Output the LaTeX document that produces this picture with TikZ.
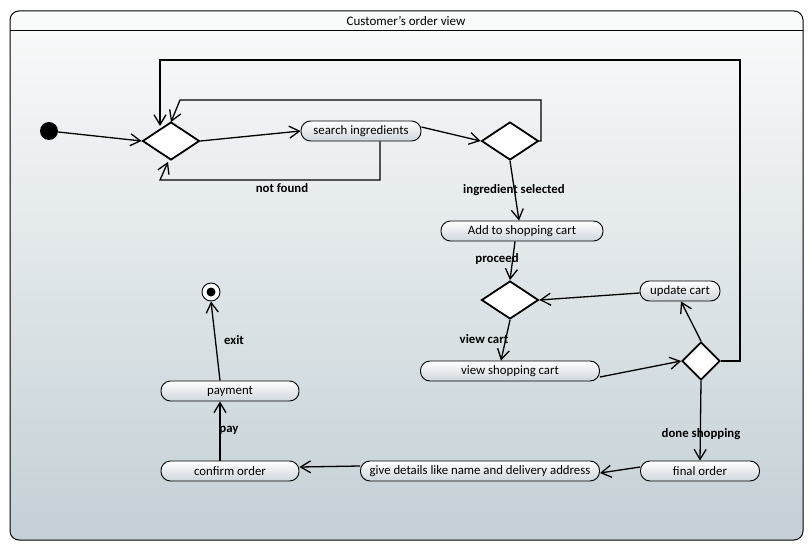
\documentclass[tikz,border=0pt]{standalone}
\usepackage{fontspec}
\setmainfont{Carlito}
\usetikzlibrary{shapes.geometric,arrows.meta}
\definecolor{frametop}{RGB}{250,251,251}
\definecolor{framebot}{RGB}{196,208,214}
\definecolor{actbot}{RGB}{206,214,220}
\tikzset{
  act/.style={draw, line width=0.9pt, rounded corners=9.5pt, minimum height=20pt,
    inner sep=0pt, top color=white, bottom color=actbot, font=\fontsize{12.8}{14}\selectfont},
  dec/.style={diamond, draw, line width=1.8pt, fill=white, inner sep=0pt},
  flow/.style={line width=1.3pt, -{Straight Barb[length=10pt,width=12pt,line width=1.3pt]}},
  lbl/.style={font=\fontsize{12.8}{14}\selectfont\bfseries}
}
\begin{document}
\begin{tikzpicture}[x=1pt,y=-1pt]
\useasboundingbox (0,0) rectangle (811,551);
% frame of the activity
\path[rounded corners=9pt, top color=frametop, bottom color=framebot]
  (10,11) rectangle (803,540);
\draw[line width=1pt, rounded corners=9pt] (10,11) rectangle (803,540);
\draw[line width=1pt] (10,31) -- (803,31);
\node[font=\fontsize{13}{15}\selectfont] (title) at (406,21) {Customer's order view};

% start and end
\node[circle, fill=black, minimum size=18pt, inner sep=0pt] (start) at (49,131) {};
\node[circle, draw, line width=0.9pt, fill=white, minimum size=18pt, inner sep=0pt] (stop) at (211,292) {};
\node[circle, fill=black, minimum size=9pt, inner sep=0pt] (stopdot) at (211,292) {};

% decisions
\node[dec, minimum width=57pt, minimum height=38pt] (d1) at (171,141) {};
\node[dec, minimum width=57pt, minimum height=38pt] (d2) at (510,141) {};
\node[dec, minimum width=57pt, minimum height=38pt] (d3) at (510,300) {};
\node[dec, minimum width=38pt, minimum height=38pt] (d4) at (701,361) {};

% actions
\node[act, minimum width=120pt] (search) at (361,131) {search ingredients};
\node[act, minimum width=162pt] (add) at (522,231) {Add to shopping cart};
\node[act, minimum width=80pt] (update) at (680,291) {update cart};
\node[act, minimum width=179pt] (view) at (510,371) {view shopping cart};
\node[act, minimum width=119pt] (final) at (700,471) {final order};
\node[act, minimum width=239pt] (details) at (480,471) {give details like name and delivery address};
\node[act, minimum width=138pt] (confirm) at (230,471) {confirm order};
\node[act, minimum width=138pt] (pay) at (230,391) {payment};

% bend points of the loops
\coordinate (nf1) at (380,180);
\coordinate (nf2) at (160,180);
\coordinate (lp1) at (541,100);
\coordinate (lp2) at (180,100);
\coordinate (big1) at (740,60);
\coordinate (big2) at (160,60);
\coordinate (bigend) at (160,126);

% flows
\draw[flow] (start) -- (d1.west);
\draw[flow] (d1.east) -- (search.west);
\draw[flow] ([yshift=4pt]search.east) -- (d2.west);
\draw[flow] (search.south -| nf1) -- (nf1) -- (nf2) -- ([xshift=-3pt,yshift=-1pt]d1.south);
\draw[flow] (d2.east) -- (d2.east -| lp1) -- (lp1) -- (lp2) -- ([yshift=-1pt]d1.north);
\draw[flow] (d4.east) -- (d4.east -| big1) -- (big1) -- (big2) -- (bigend);
\draw[flow] (d2.south) -- ([xshift=-3pt]add.north);
\draw[flow] ([xshift=-7pt]add.south) -- (d3.north);
\draw[flow] ([yshift=-2pt]update.west) -- (d3.east);
\draw[flow] (d3.south) -- ([xshift=-9pt]view.north);
\draw[flow] ([yshift=-6pt]view.east) -- (d4.west);
\draw[flow] (d4.north) -- ([xshift=1pt]update.south);
\draw[flow] (d4.south) -- (final.north);
\draw[flow] ([yshift=4pt]final.west) -- ([yshift=-2pt]details.east);
\draw[flow] ([yshift=5pt]details.west) -- ([yshift=4pt]confirm.east);
\draw[flow] ([xshift=-10pt]confirm.north) -- ([xshift=-10pt]pay.south);
\draw[flow] ([xshift=-10pt]pay.north) -- (stop.south);

% guards
\node[lbl] (l1) at (282,188) {not found};
\node[lbl] (l2) at (514,190) {ingredient selected};
\node[lbl] (l3) at (497,259) {proceed};
\node[lbl] (l4) at (484,339) {view cart};
\node[lbl] (l5) at (701,434) {done shopping};
\node[lbl] (l6) at (229,430) {pay};
\node[lbl] (l7) at (234,340) {exit};
\end{tikzpicture}
\end{document}
